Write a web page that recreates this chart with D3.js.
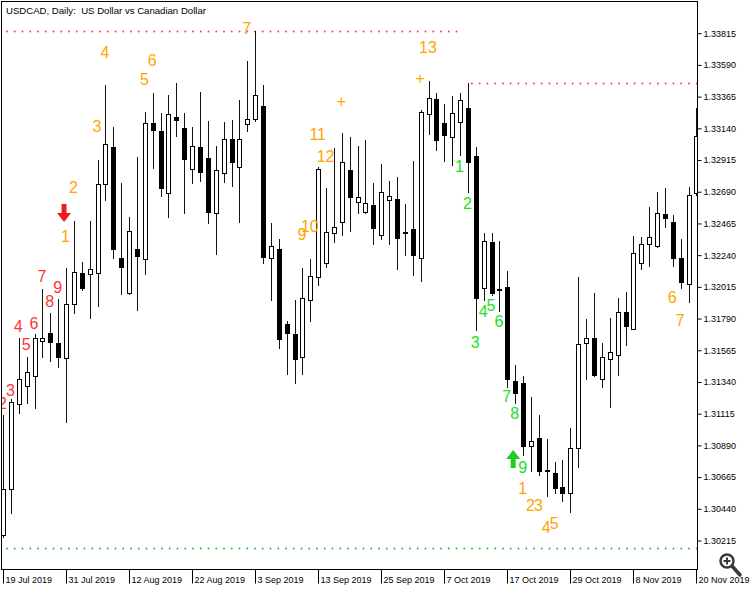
<!DOCTYPE html>
<html><head><meta charset="utf-8">
<script src="https://cdn.jsdelivr.net/npm/d3@7"></script>
<style>body{margin:0;background:#fff}svg{display:block}</style>
</head><body>
<svg id="chart" width="750" height="592"></svg>
<script>
const dates = ["2019-07-19","2019-07-22","2019-07-23","2019-07-24","2019-07-25","2019-07-26","2019-07-29","2019-07-30","2019-07-31",
"2019-08-01","2019-08-02","2019-08-05","2019-08-06","2019-08-07","2019-08-08","2019-08-09","2019-08-12","2019-08-13","2019-08-14","2019-08-15","2019-08-16","2019-08-19","2019-08-20","2019-08-21","2019-08-22","2019-08-23","2019-08-26","2019-08-27","2019-08-28","2019-08-29","2019-08-30",
"2019-09-02","2019-09-03","2019-09-04","2019-09-05","2019-09-06","2019-09-09","2019-09-10","2019-09-11","2019-09-12","2019-09-13","2019-09-16","2019-09-17","2019-09-18","2019-09-19","2019-09-20","2019-09-23","2019-09-24","2019-09-25","2019-09-26","2019-09-27","2019-09-30",
"2019-10-01","2019-10-02","2019-10-03","2019-10-04","2019-10-07","2019-10-08","2019-10-09","2019-10-10","2019-10-11","2019-10-14","2019-10-15","2019-10-16","2019-10-17","2019-10-18","2019-10-21","2019-10-22","2019-10-23","2019-10-24","2019-10-25","2019-10-28","2019-10-29","2019-10-30","2019-10-31",
"2019-11-01","2019-11-04","2019-11-05","2019-11-06","2019-11-07","2019-11-08","2019-11-11","2019-11-12","2019-11-13","2019-11-14","2019-11-15","2019-11-18","2019-11-19","2019-11-20"];

const open = [1.30250,1.30575,1.31178,1.31308,1.31379,1.31629,1.31686,1.31611,1.31504,1.31890,1.32108,1.32100,1.32112,1.32739,1.33006,1.32214,1.31970,1.32280,1.32209,1.33172,1.33117,1.32679,1.33219,1.33141,1.32848,1.33006,1.32928,1.32533,1.32817,1.33061,1.32860,1.33169,1.33200,1.33297,1.32214,1.32280,1.31748,1.31677,1.31516,1.31918,1.32083,1.32183,1.32391,1.32469,1.32841,1.32616,1.32545,1.32590,1.32379,1.32626,1.32633,1.32398,1.32422,1.32214,1.33236,1.33342,1.33172,1.33073,1.33183,1.33283,1.32940,1.32005,1.32332,1.31996,1.32008,1.31343,1.31327,1.30882,1.30937,1.30710,1.30693,1.30593,1.30546,1.30866,1.31615,1.31646,1.31355,1.31497,1.31528,1.31835,1.31710,1.32179,1.32313,1.32303,1.32528,1.32469,1.32218,1.32029,1.32675];
const high = [1.31102,1.31216,1.31646,1.31511,1.31675,1.31994,1.31828,1.31923,1.32147,1.32479,1.32188,1.32479,1.32912,1.33444,1.33144,1.32746,1.32505,1.32935,1.33254,1.33389,1.33247,1.33373,1.33460,1.33247,1.33148,1.33396,1.33190,1.33011,1.33183,1.33195,1.33337,1.33612,1.33829,1.33444,1.32467,1.32351,1.31771,1.31918,1.32147,1.32209,1.32864,1.32715,1.32995,1.33101,1.33073,1.33011,1.33053,1.32750,1.32883,1.32765,1.32789,1.32599,1.32907,1.33266,1.33474,1.33389,1.33307,1.33366,1.33389,1.33460,1.33002,1.32396,1.32396,1.32339,1.32124,1.31457,1.31379,1.31232,1.31102,1.30930,1.30766,1.30783,1.31008,1.32083,1.31783,1.31966,1.31611,1.31788,1.31934,1.31977,1.32372,1.32367,1.32580,1.32682,1.32711,1.32521,1.32351,1.32718,1.33281];
const low = [1.30236,1.30407,1.31118,1.31185,1.31150,1.31511,1.31487,1.31445,1.31055,1.31824,1.31989,1.31788,1.31876,1.32628,1.32214,1.31961,1.31961,1.31847,1.32103,1.32853,1.32656,1.32509,1.33084,1.32533,1.32746,1.32763,1.32462,1.32245,1.32758,1.32727,1.32469,1.33119,1.33190,1.32183,1.31918,1.31575,1.31391,1.31331,1.31391,1.31769,1.32025,1.32154,1.32328,1.32379,1.32410,1.32538,1.32538,1.32315,1.32349,1.32315,1.32136,1.32237,1.32095,1.32055,1.33096,1.32982,1.32904,1.32874,1.32947,1.32687,1.31705,1.31918,1.31954,1.31842,1.31303,1.31189,1.30818,1.30707,1.30676,1.30527,1.30551,1.30494,1.30416,1.30735,1.31355,1.31379,1.31299,1.31159,1.31386,1.31599,1.31710,1.32136,1.32161,1.32292,1.32438,1.32161,1.32001,1.31902,1.32663];
const close = [1.30575,1.31196,1.31355,1.31405,1.31646,1.31646,1.31620,1.31516,1.31890,1.32115,1.32001,1.32136,1.32739,1.33023,1.32278,1.32154,1.32408,1.32230,1.33176,1.33124,1.32715,1.33236,1.33195,1.32916,1.33013,1.32829,1.32540,1.32841,1.33061,1.32895,1.33061,1.33205,1.33373,1.32225,1.32301,1.31639,1.31682,1.31499,1.31930,1.32091,1.32846,1.32398,1.32434,1.32899,1.32647,1.32647,1.32609,1.32427,1.32687,1.32656,1.32356,1.32394,1.32237,1.33254,1.33349,1.33053,1.33087,1.33247,1.33337,1.32895,1.31934,1.32337,1.31970,1.31991,1.31355,1.31260,1.30884,1.30920,1.30705,1.30705,1.30582,1.30551,1.30866,1.31604,1.31646,1.31386,1.31511,1.31547,1.31835,1.31734,1.32249,1.32315,1.32367,1.32533,1.32498,1.32218,1.32044,1.32663,1.33080];

const priceTicks = [1.33815,1.33590,1.33365,1.33140,1.32915,1.32690,1.32465,1.32240,1.32015,1.31790,1.31565,1.31340,1.31115,1.30890,1.30665,1.30440,1.30215];
const timeTickDates = ["2019-07-19","2019-07-31","2019-08-12","2019-08-22","2019-09-03","2019-09-13","2019-09-25","2019-10-07","2019-10-17","2019-10-29","2019-11-08","2019-11-20"];
const timeTickLabels = ["19 Jul 2019","31 Jul 2019","12 Aug 2019","22 Aug 2019","3 Sep 2019","13 Sep 2019","25 Sep 2019","7 Oct 2019","17 Oct 2019","29 Oct 2019","8 Nov 2019","20 Nov 2019"];

// TD count labels: [bar index, text, price anchor]
const redCounts = [[0,"2",1.31185],[1,"3",1.31279],[2,"4",1.31729],[3,"5",1.31599],[4,"6",1.31753],[5,"7",1.32083],[6,"8",1.31906],[7,"9",1.32008]];
const orangeCounts = [[8,"1",1.32372],[9,"2",1.32713],[12,"3",1.33146],[13,"4",1.33678],[18,"5",1.33486],[19,"6",1.33621],[31,"7",1.33848],
 [38,"9",1.32386],[39,"10",1.32443],[40,"11",1.33096],[41,"12",1.32940],[43,"+",1.33330],[53,"+",1.33493],[54,"13",1.33713],
 [66,"1",1.30584],[67,"2",1.30463],[68,"3",1.30463],[69,"4",1.30307],[70,"5",1.30329],[85,"6",1.31939],[86,"7",1.31776]];
const greenCounts = [[58,"1",1.32869],[59,"2",1.32606],[60,"3",1.31620],[61,"4",1.31833],[62,"5",1.31876],[63,"6",1.31769],[64,"7",1.31230],[65,"8",1.31116],[66,"9",1.30733]];
// signal arrows: [bar index, direction, price anchor]
const arrows = [[8,"down",1.32535],[65,"up",1.30790]];
// TDST levels: [start index, end index, price, kind]
const levels = [[0,58,1.33829,"res"],[59,88,1.33460,"res"],[0,88,1.30158,"sup"]];

const title = "USDCAD, Daily:  US Dollar vs Canadian Dollar";

const svg = d3.select("#chart");
const W = 750, H = 592;
const plotR = 697, plotB = 569;

const x = d3.scalePoint().domain(dates).range([3, 3 + 7.88 * (dates.length - 1)]);
const y = d3.scaleLinear().domain([1.30215, 1.33815]).range([540, 32.7]);

svg.append("rect").attr("width", W).attr("height", H).attr("fill", "#fff");

svg.append("defs").append("clipPath").attr("id", "plotclip")
  .append("rect").attr("x", 2).attr("y", 2).attr("width", plotR - 2).attr("height", plotB - 2);

const plot = svg.append("g").attr("clip-path", "url(#plotclip)");

// level dotted lines
levels.forEach(([s, e, p, kind]) => {
  plot.append("line")
    .attr("x1", x(dates[s]) + 4).attr("x2", x(dates[e]) + 1)
    .attr("y1", Math.round(y(p)) + 0.5).attr("y2", Math.round(y(p)) + 0.5)
    .attr("stroke", kind === "res" ? "#ff3c3c" : "#22bb22")
    .attr("stroke-width", 1.9)
    .attr("stroke-linecap", "round")
    .attr("stroke-dasharray", "0,7.75");
});

// candles
const candles = plot.append("g");
dates.forEach((d, i) => {
  const r = Math.round(x(d));
  const o = open[i], c = close[i];
  const bull = c >= o;
  const yH = Math.round(y(high[i])), yL = Math.round(y(low[i]));
  const yT = Math.round(y(Math.max(o, c))), yBt = Math.round(y(Math.min(o, c)));
  candles.append("line").attr("x1", r + 0.5).attr("x2", r + 0.5)
    .attr("y1", yH).attr("y2", yL + 1).attr("stroke", "#111").attr("stroke-width", 1);
  if (yBt - yT < 1) {
    candles.append("line").attr("x1", r - 2).attr("x2", r + 3)
      .attr("y1", yT + 0.5).attr("y2", yT + 0.5).attr("stroke", "#111");
  } else {
    candles.append("rect").attr("x", r - 1.5).attr("y", yT + 0.5)
      .attr("width", 4).attr("height", yBt - yT)
      .attr("fill", bull ? "#fff" : "#000").attr("stroke", "#000").attr("stroke-width", 1);
  }
});

// count labels
function drawCounts(arr, color) {
  plot.append("g").selectAll("text").data(arr).join("text")
    .attr("x", d => x(dates[d[0]]) - 0.5)
    .attr("y", d => y(d[2]))
    .attr("text-anchor", "middle")
    .attr("dominant-baseline", "central")
    .attr("font-family", "'Liberation Sans', Arial, sans-serif")
    .attr("font-size", 16)
    .attr("fill", color)
    .text(d => d[1]);
}
drawCounts(redCounts, "#ff3333");
drawCounts(orangeCounts, "#ffa500");
drawCounts(greenCounts, "#22e022");

// arrows
arrows.forEach(([i, dir, p]) => {
  const cx = x(dates[i]) - 2, cy = y(p);
  const s = dir === "down" ? 1 : -1;
  const pts = [[-2.5, -9], [2.5, -9], [2.5, 0], [7, 0], [0, 9], [-7, 0], [-2.5, 0]]
    .map(([a, b]) => [cx + a, cy + s * b]);
  plot.append("path").attr("d", d3.line()(pts) + "Z")
    .attr("fill", dir === "down" ? "#ee1c1c" : "#22cc22");
});

// frame
svg.append("line").attr("x1", 1.5).attr("x2", 1.5).attr("y1", 1).attr("y2", plotB).attr("stroke", "#000");
svg.append("line").attr("x1", 1).attr("x2", plotR).attr("y1", 1.5).attr("y2", 1.5).attr("stroke", "#000");
svg.append("line").attr("x1", plotR + 0.5).attr("x2", plotR + 0.5).attr("y1", 1).attr("y2", plotB + 1).attr("stroke", "#000");
svg.append("line").attr("x1", 1).attr("x2", plotR + 1).attr("y1", plotB + 0.5).attr("y2", plotB + 0.5).attr("stroke", "#000");

// price axis
const yAxis = d3.axisRight(y).tickValues(priceTicks).tickSize(4).tickPadding(2).tickFormat(d3.format(".5f"));
const ya = svg.append("g").attr("transform", `translate(${plotR + 0.5},0.5)`).call(yAxis);
ya.select(".domain").remove();
ya.selectAll("line").attr("stroke", "#000");
ya.selectAll("text").attr("font-family", "'Liberation Sans', Tahoma, Arial, sans-serif").attr("font-size", 9).attr("fill", "#000");

// time axis
const xAxis = d3.axisBottom(x).tickValues(timeTickDates).tickSize(14)
  .tickFormat((d, k) => timeTickLabels[k]);
const xa = svg.append("g").attr("transform", `translate(0.5,${plotB + 0.5})`).call(xAxis);
xa.select(".domain").remove();
xa.selectAll(".tick").attr("transform", d => `translate(${Math.round(x(d))},0)`);
xa.selectAll("line").attr("stroke", "#000");
xa.selectAll("text").attr("font-family", "'Liberation Sans', Tahoma, Arial, sans-serif").attr("font-size", 9)
  .attr("fill", "#000").attr("text-anchor", "start").attr("x", 2).attr("y", 7).attr("dy", "0.71em");

// title
svg.append("text").attr("x", 6).attr("y", 14).attr("font-family", "'Liberation Sans', Tahoma, Arial, sans-serif")
  .attr("font-size", 9.6).attr("fill", "#000").style("white-space", "pre").text(title);

// magnifier icon
const mg = svg.append("g").attr("stroke", "#3a3a3a").attr("fill", "none");
mg.append("circle").attr("cx", 727).attr("cy", 561).attr("r", 6.5).attr("stroke-width", 2.5).attr("fill", "#fff");
mg.append("line").attr("x1", 732).attr("y1", 566).attr("x2", 740).attr("y2", 575).attr("stroke-width", 3.5).attr("stroke-linecap", "round");
mg.append("line").attr("x1", 723.5).attr("x2", 730.5).attr("y1", 561).attr("y2", 561).attr("stroke-width", 2);
mg.append("line").attr("x1", 727).attr("x2", 727).attr("y1", 557.5).attr("y2", 564.5).attr("stroke-width", 2);
</script>
</body></html>
